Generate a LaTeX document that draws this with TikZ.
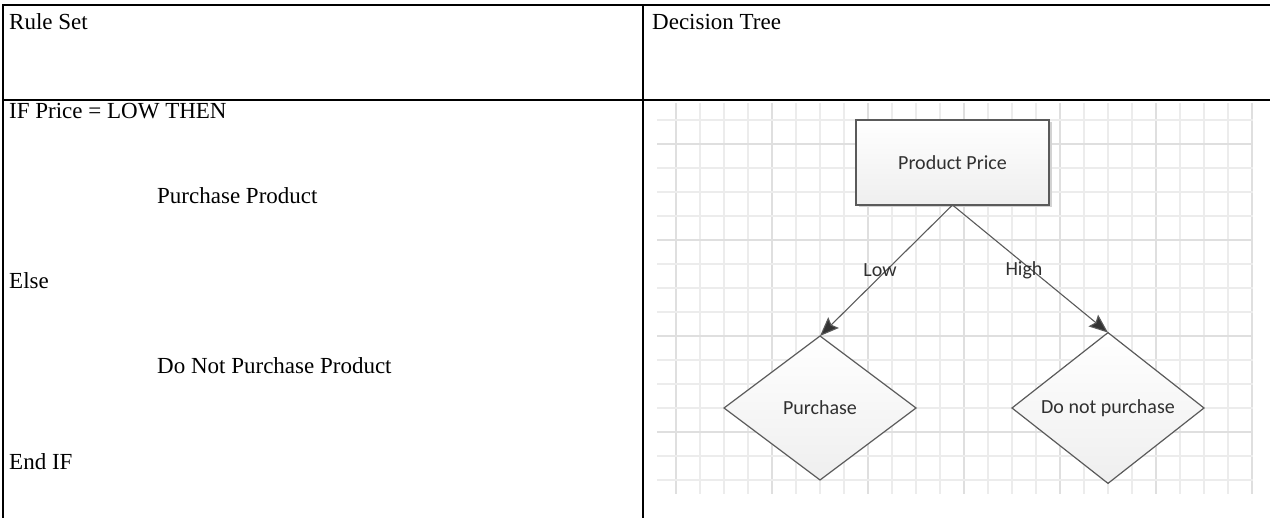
\documentclass[tikz,border=0pt]{standalone}
\usepackage{fontspec}
\setmainfont{Liberation Serif}
\newfontfamily\visfont{Carlito}
\usetikzlibrary{arrows.meta,shapes.geometric}
\definecolor{gridminor}{HTML}{ECECEC}
\definecolor{gridmajor}{HTML}{DFDFDF}
\definecolor{visline}{HTML}{5A5A5A}
\definecolor{vistext}{HTML}{303030}
\tikzset{
  tableline/.style={line width=2pt,black},
  celltext/.style={anchor=base west,inner sep=0pt,font=\fontsize{23}{27}\selectfont},
  procbox/.style={draw=visline,line width=1.4pt,rectangle,minimum width=193pt,minimum height=85pt,
    inner sep=0pt,outer sep=0pt,top color=white,bottom color=gray!13,text=vistext,
    font=\visfont\fontsize{20}{24}\selectfont},
  decbox/.style={draw=visline,line width=1.2pt,diamond,minimum width=192pt,minimum height=144pt,
    inner sep=0pt,outer sep=0pt,top color=white,bottom color=gray!13,text=vistext,
    font=\visfont\fontsize{20}{24}\selectfont},
  edgelabel/.style={inner sep=0pt,text=vistext,font=\visfont\fontsize{20}{24}\selectfont},
  flow/.style={draw=visline,line width=1.1pt,-{Stealth[length=19pt,width=15pt,inset=3pt,fill=black!80]}},
}
\begin{document}
\begin{tikzpicture}[x=1pt,y=-1pt]
\useasboundingbox[fill=white] (0,0) rectangle (1270,518);
% grid
\foreach \k in {0,...,24}{
  \pgfmathtruncatemacro{\m}{mod(\k,4)}
  \ifnum\m=0
    \draw[gridmajor,line width=1.2pt] ({676+24*\k},103) -- ({676+24*\k},494);
  \else
    \draw[gridminor,line width=1.1pt] ({676+24*\k},103) -- ({676+24*\k},494);
  \fi
}
\foreach \k in {0,...,15}{
  \pgfmathtruncatemacro{\m}{mod(\k+3,4)}
  \ifnum\m=0
    \draw[gridmajor,line width=1.2pt] (657,{120+24*\k}) -- (1253,{120+24*\k});
  \else
    \draw[gridminor,line width=1.1pt] (657,{120+24*\k}) -- (1253,{120+24*\k});
  \fi
}
% table
\draw[tableline] (3,4.5) -- (3,518);
\draw[tableline] (2,5.5) -- (1270,5.5);
\draw[tableline] (2,100.5) -- (1270,100.5);
\draw[tableline] (643,5.5) -- (643,518);
% cell texts
\node[celltext] (hrule) at (9,30) {Rule Set};
\node[celltext] (htree) at (652,30) {Decision Tree};
\node[celltext] (l1) at (9,119) {IF Price = LOW THEN};
\node[celltext] (l2) at (157,204) {Purchase Product};
\node[celltext] (l3) at (9,289) {Else};
\node[celltext] (l4) at (157,374) {Do Not Purchase Product};
\node[celltext] (l5) at (9,470) {End IF};
% diagram
\fill[gray!35] (858.5,122.5) rectangle (1051.5,207.5);
\node[procbox] (price) at (952.5,162.5) {Product Price};
\node[decbox] (buy) at (820,408) {Purchase};
\node[decbox] (nobuy) at (1108,408) {Do not purchase};
\draw[flow] (price.south) -- (buy.north);
\draw[flow] (price.south) -- (nobuy.north);
\node[edgelabel] (low) at (880,270) {Low};
\node[edgelabel] (high) at (1024,270) {High};
\end{tikzpicture}
\end{document}
